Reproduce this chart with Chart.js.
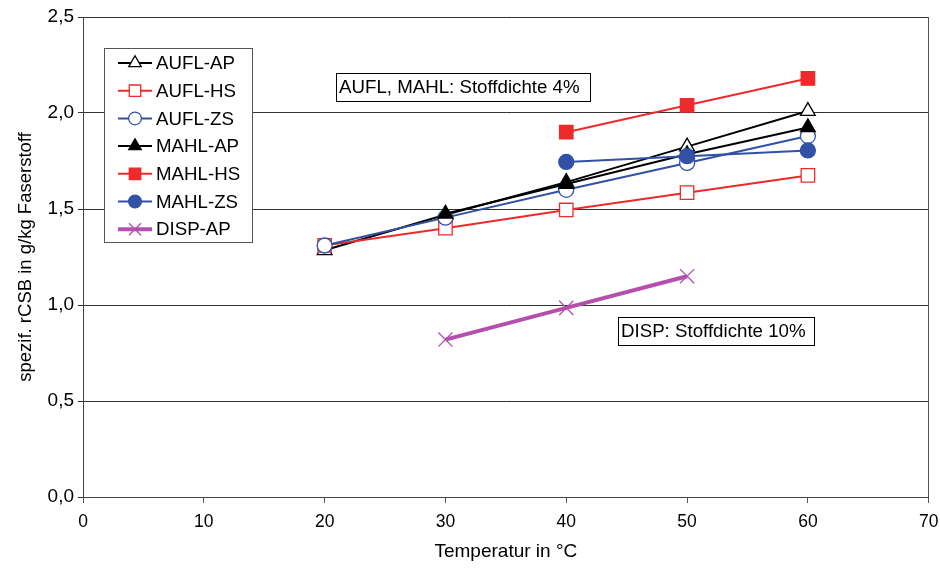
<!DOCTYPE html>
<html>
<head>
<meta charset="utf-8">
<script src="https://cdn.jsdelivr.net/npm/chart.js@4/dist/chart.umd.min.js"></script>
<style>
  html, body { margin: 0; padding: 0; background: #ffffff; }
  #wrap { width: 940px; height: 568px; }
</style>
</head>
<body>
<div id="wrap"><canvas id="c" width="940" height="568"></canvas></div>
<script>
// ---- Data ----
const temperatures = [20, 30, 40, 50, 60];
const seriesNames = ['AUFL-AP', 'AUFL-HS', 'AUFL-ZS', 'MAHL-AP', 'MAHL-HS', 'MAHL-ZS', 'DISP-AP'];
const auflAP = [1.285, 1.47, 1.64, 1.825, 2.01];
const auflHS = [1.31, 1.40, 1.495, 1.585, 1.675];
const auflZS = [1.31, 1.455, 1.60, 1.74, 1.88];
const mahlAP = [null, 1.475, 1.63, 1.785, 1.925];
const mahlHS = [null, null, 1.90, 2.04, 2.18];
const mahlZS = [null, null, 1.745, 1.775, 1.805];
const dispAP = [null, 0.82, 0.985, 1.15, null];
const yTicks = [0, 0.5, 1.0, 1.5, 2.0, 2.5];
const xTicks = [0, 10, 20, 30, 40, 50, 60, 70];
const annotation1 = 'AUFL, MAHL: Stoffdichte 4%';
const annotation2 = 'DISP: Stoffdichte 10%';
const xTitle = 'Temperatur in °C';
const yTitle = 'spezif. rCSB in g/kg Faserstoff';

const RED = '#ee2a2a', BLUE = '#3151a6', BLACK = '#000000', PURPLE = '#b54fae';
const FONT = '"Liberation Sans", Arial, sans-serif';

function pts(arr) {
  return temperatures.map((t, i) => ({ x: t, y: arr[i] })).filter(p => p.y !== null);
}

const styles = [
  { color: BLACK, fill: '#ffffff', shape: 'triangle', r: 8.5, lw: 2 },
  { color: RED, fill: '#ffffff', shape: 'rect', r: 9.5, lw: 2 },
  { color: BLUE, fill: '#ffffff', shape: 'circle', r: 7.5, lw: 2 },
  { color: BLACK, fill: BLACK, shape: 'triangle', r: 8.5, lw: 2 },
  { color: RED, fill: RED, shape: 'rect', r: 9.5, lw: 2 },
  { color: BLUE, fill: BLUE, shape: 'circle', r: 7.5, lw: 2 },
  { color: PURPLE, fill: PURPLE, shape: 'crossRot', r: 10, lw: 4 }
];
const seriesData = [auflAP, auflHS, auflZS, mahlAP, mahlHS, mahlZS, dispAP];

const datasets = seriesData.map((arr, i) => ({
  label: seriesNames[i],
  data: pts(arr),
  showLine: true,
  borderColor: styles[i].color,
  borderWidth: styles[i].lw,
  backgroundColor: styles[i].fill,
  pointStyle: styles[i].shape,
  pointRadius: styles[i].r,
  pointHoverRadius: styles[i].r,
  pointBorderColor: styles[i].color,
  pointBackgroundColor: styles[i].fill,
  pointBorderWidth: 1.3,
  tension: 0,
  order: seriesData.length - i
}));

function drawMarker(ctx, shape, x, y, r, stroke, fill) {
  ctx.save();
  ctx.beginPath();
  ctx.lineWidth = 1.3;
  ctx.strokeStyle = stroke;
  ctx.fillStyle = fill;
  if (shape === 'triangle') {
    ctx.moveTo(x, y - r);
    ctx.lineTo(x + r * Math.sin(2 * Math.PI / 3), y - r * Math.cos(2 * Math.PI / 3));
    ctx.lineTo(x + r * Math.sin(4 * Math.PI / 3), y - r * Math.cos(4 * Math.PI / 3));
    ctx.closePath(); ctx.fill(); ctx.stroke();
  } else if (shape === 'rect') {
    const s = r * Math.SQRT1_2;
    ctx.rect(x - s, y - s, 2 * s, 2 * s); ctx.fill(); ctx.stroke();
  } else if (shape === 'circle') {
    ctx.arc(x, y, r, 0, Math.PI * 2); ctx.fill(); ctx.stroke();
  } else if (shape === 'crossRot') {
    const s = r * Math.SQRT1_2;
    ctx.moveTo(x - s, y - s); ctx.lineTo(x + s, y + s);
    ctx.moveTo(x + s, y - s); ctx.lineTo(x - s, y + s);
    ctx.stroke();
  }
  ctx.restore();
}

const decorPlugin = {
  id: 'decor',
  beforeDatasetsDraw(chart) {
    const { ctx, chartArea } = chart;
    ctx.save();
    ctx.strokeStyle = '#555555';
    ctx.lineWidth = 1;
    ctx.beginPath();
    ctx.moveTo(Math.round(chartArea.right) - 0.5, chartArea.top);
    ctx.lineTo(Math.round(chartArea.right) - 0.5, chartArea.bottom);
    ctx.stroke();
    ctx.restore();
  },
  afterDatasetsDraw(chart) {
    const { ctx } = chart;
    ctx.save();
    // annotation boxes
    ctx.font = '18.7px ' + FONT;
    ctx.textBaseline = 'middle';
    ctx.textAlign = 'left';
    function box(x1, y1, x2, y2, text) {
      ctx.fillStyle = '#ffffff';
      ctx.fillRect(x1, y1, x2 - x1, y2 - y1);
      ctx.strokeStyle = '#000000';
      ctx.lineWidth = 1;
      ctx.strokeRect(x1 + 0.5, y1 + 0.5, x2 - x1, y2 - y1);
      ctx.fillStyle = '#000000';
      ctx.fillText(text, x1 + 3, (y1 + y2) / 2 + 1);
    }
    box(336, 73, 590, 101, annotation1);
    box(618, 317, 814, 345, annotation2);

    // legend
    const lx1 = 104, ly1 = 48, lx2 = 252, ly2 = 242;
    ctx.fillStyle = '#ffffff';
    ctx.fillRect(lx1, ly1, lx2 - lx1, ly2 - ly1);
    ctx.strokeStyle = '#555555';
    ctx.lineWidth = 1;
    ctx.strokeRect(lx1 + 0.5, ly1 + 0.5, lx2 - lx1, ly2 - ly1);
    const rowY0 = 63, rowH = 27.7;
    seriesNames.forEach((name, i) => {
      const y = rowY0 + i * rowH;
      const st = styles[i];
      ctx.strokeStyle = st.color;
      ctx.lineWidth = st.lw;
      ctx.beginPath();
      ctx.moveTo(118, y); ctx.lineTo(152, y);
      ctx.stroke();
      drawMarker(ctx, st.shape, 135, y, st.r * 0.85, st.color, st.fill);
      ctx.fillStyle = '#000000';
      ctx.font = '18.7px ' + FONT;
      ctx.textBaseline = 'middle';
      ctx.fillText(name, 156, y + 1);
    });
    ctx.restore();
  }
};

new Chart(document.getElementById('c'), {
  type: 'scatter',
  data: { datasets },
  options: {
    responsive: false,
    animation: false,
    devicePixelRatio: 1,
    layout: { padding: { top: 17, right: 10, left: 0, bottom: 0 } },
    plugins: { legend: { display: false }, tooltip: { enabled: false } },
    events: [],
    scales: {
      x: {
        type: 'linear',
        min: 0, max: 70,
        afterBuildTicks(scale) { scale.ticks = xTicks.map(v => ({ value: v })); },
        afterFit(scale) { scale.height = 71; scale.paddingRight = 0; scale.paddingLeft = 0; },
        ticks: {
          color: '#000000',
          font: { family: FONT, size: 17.5 },
          padding: 9,
          maxRotation: 0,
          callback: v => String(v)
        },
        grid: {
          drawOnChartArea: false,
          drawTicks: true,
          tickLength: 6,
          color: '#555555',
          lineWidth: 1
        },
        border: { display: true, color: '#444444', width: 1 },
        title: {
          display: true,
          text: xTitle,
          color: '#000000',
          font: { family: FONT, size: 19 },
          padding: { top: 4, bottom: 5 }
        }
      },
      y: {
        type: 'linear',
        min: 0, max: 2.5,
        afterBuildTicks(scale) { scale.ticks = yTicks.map(v => ({ value: v })); },
        afterFit(scale) { scale.width = 83; scale.paddingTop = 0; scale.paddingBottom = 0; },
        ticks: {
          color: '#000000',
          font: { family: FONT, size: 19 },
          padding: 4,
          callback: v => Number(v).toFixed(1).replace('.', ',')
        },
        grid: {
          drawOnChartArea: true,
          drawTicks: true,
          tickLength: 5,
          color: '#333333',
          lineWidth: 1
        },
        border: { display: true, color: '#444444', width: 1 },
        title: {
          display: true,
          text: yTitle,
          color: '#000000',
          font: { family: FONT, size: 18.5 },
          padding: { top: 15, bottom: 0 }
        }
      }
    }
  },
  plugins: [decorPlugin]
});
</script>
</body>
</html>
